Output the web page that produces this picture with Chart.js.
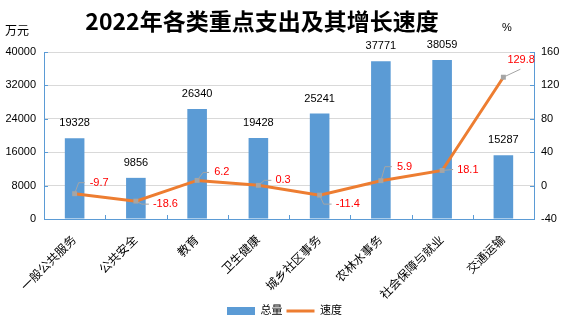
<!DOCTYPE html>
<html><head><meta charset="utf-8">
<script src="https://cdn.jsdelivr.net/npm/chart.js@4.4.1/dist/chart.umd.min.js"></script>
<style>html,body{margin:0;padding:0;background:#fff}#wrap{width:569px;height:333px}</style>
</head><body><div id="wrap"><canvas id="c" width="569" height="333"></canvas></div>
<script>
const categories = ['一般公共服务','公共安全','教育','卫生健康','城乡社区事务','农林水事务','社会保障与就业','交通运输'];
const totals = [19328, 9856, 26340, 19428, 25241, 37771, 38059, 15287];
const growth = [-9.7, -18.6, 6.2, 0.3, -11.4, 5.9, 18.1, 129.8];
const leftTicks = [0, 8000, 16000, 24000, 32000, 40000];
const rightTicks = [-40, 0, 40, 80, 120, 160];
const titleText = '2022年各类重点支出及其增长速度';
const leftUnit = '万元';
const rightUnit = '%';
const seriesNames = ['总量', '速度'];
// leader line / label placement for growth labels (offsets from point, px)
const growthLabelPlacement = [
  {lx:4, ly:-11, hx:10, tx:15, ty:-11},
  {lx:6, ly:3, hx:13, tx:17, ty:3},
  {lx:6, ly:-8, hx:12, tx:17, ty:-8},
  {lx:6, ly:-5, hx:13, tx:17, ty:-5},
  {lx:4, ly:9, hx:12, tx:16, ty:9},
  {lx:4, ly:-14, hx:11, tx:16, ty:-14},
  {lx:11, ly:-1, hx:11, tx:15, ty:-1},
  {lx:17, ly:-8, hx:17, tx:4, ty:-17}
];

const BLUE = '#5B9BD5', ORANGE = '#ED7D31', GRAY = '#A5A5A5', GRID = '#D9D9D9';
const FONT = "'Liberation Sans', 'Noto Sans CJK SC', sans-serif";

const extras = {
  id: 'extras',
  beforeDatasetsDraw(chart) {
    const ctx = chart.ctx, ca = chart.chartArea;
    const y = chart.scales.y, y1 = chart.scales.y1, x = chart.scales.x;
    ctx.save();
    ctx.strokeStyle = BLUE; ctx.lineWidth = 1;
    ctx.beginPath();
    leftTicks.forEach(v => { const p = Math.round(y.getPixelForValue(v)) + 0.5; ctx.moveTo(ca.left, p); ctx.lineTo(ca.left + 4, p); });
    rightTicks.forEach(v => { const p = Math.round(y1.getPixelForValue(v)) + 0.5; ctx.moveTo(ca.right - 4, p); ctx.lineTo(ca.right, p); });
    for (let i = 0; i <= categories.length; i++) {
      const p = Math.round(x.getPixelForValue(i - 0.5)) + 0.5;
      ctx.moveTo(p, ca.bottom); ctx.lineTo(p, ca.bottom - 4);
    }
    ctx.stroke();
    ctx.restore();
  },
  afterDatasetsDraw(chart) {
    const ctx = chart.ctx;
    ctx.save();
    const barMeta = chart.getDatasetMeta(0);
    ctx.font = '11px ' + FONT; ctx.fillStyle = '#000'; ctx.textAlign = 'center'; ctx.textBaseline = 'middle';
    barMeta.data.forEach((el, i) => { ctx.fillText(String(totals[i]), el.x, el.y - 15); });
    const lineMeta = chart.getDatasetMeta(1);
    lineMeta.data.forEach((el, i) => {
      const pl = growthLabelPlacement[i];
      ctx.strokeStyle = GRAY; ctx.lineWidth = 1;
      ctx.beginPath();
      ctx.moveTo(el.x, el.y); ctx.lineTo(el.x + pl.lx, el.y + pl.ly); ctx.lineTo(el.x + pl.hx, el.y + pl.ly);
      ctx.stroke();
      ctx.fillStyle = '#FF0000'; ctx.textAlign = 'left'; ctx.font = '11px ' + FONT;
      ctx.fillText(String(growth[i]), el.x + pl.tx, el.y + pl.ty);
    });
    ctx.restore();
  },
  afterDraw(chart) {
    const ctx = chart.ctx;
    ctx.save();
    ctx.fillStyle = '#000'; ctx.textBaseline = 'middle';
    ctx.font = "bold 23px 'Noto Sans CJK SC', sans-serif"; ctx.textAlign = 'center';
    ctx.fillText(titleText, 262, 21);
    ctx.font = "12px 'Noto Sans CJK SC', sans-serif"; ctx.textAlign = 'left';
    ctx.fillText(leftUnit, 5, 30);
    ctx.font = '11px ' + FONT;
    ctx.fillText(rightUnit, 502, 28);
    ctx.restore();
  }
};

new Chart(document.getElementById('c'), {
  data: {
    labels: categories,
    datasets: [
      { type: 'bar', label: seriesNames[0], data: totals, backgroundColor: BLUE, yAxisID: 'y', order: 1,
        barPercentage: 0.32, categoryPercentage: 1 },
      { type: 'line', label: seriesNames[1], data: growth, yAxisID: 'y1', order: 0,
        borderColor: ORANGE, backgroundColor: ORANGE, borderWidth: 3, tension: 0,
        pointStyle: 'rect', pointRadius: 3.5, pointBackgroundColor: GRAY, pointBorderColor: GRAY, pointBorderWidth: 0 }
    ]
  },
  options: {
    responsive: false, animation: false, devicePixelRatio: 1,
    layout: { padding: { top: 52, left: 0, right: 0, bottom: 6.5 } },
    plugins: {
      title: { display: false },
      tooltip: { enabled: false },
      legend: {
        position: 'bottom',
        labels: {
          usePointStyle: true, pointStyleWidth: 28, boxHeight: 8, padding: 4, color: '#000',
          font: { size: 11, family: FONT },
          generateLabels(chart) {
            return chart.data.datasets.map((ds, i) => ({
              text: ds.label, datasetIndex: i,
              fillStyle: ds.type === 'bar' ? BLUE : ORANGE,
              strokeStyle: ds.type === 'bar' ? BLUE : ORANGE,
              lineWidth: ds.type === 'bar' ? 0 : 3,
              pointStyle: ds.type === 'bar' ? 'rect' : 'line',
              fontColor: '#000', hidden: false
            }));
          }
        }
      }
    },
    scales: {
      x: {
        offset: true,
        grid: { display: false },
        border: { display: true, color: BLUE, width: 1 },
        ticks: { color: '#000', font: { size: 12, family: FONT }, maxRotation: 45, minRotation: 45, padding: 6, autoSkip: false },
        afterFit(s) { s.height = 82.5; }
      },
      y: {
        position: 'left', min: 0, max: 40000,
        grid: { color: GRID, drawTicks: false },
        border: { display: true, color: BLUE },
        ticks: { stepSize: 8000, color: '#000', padding: 8, font: { size: 11, family: FONT }, callback: v => String(v) },
        afterFit(s) { s.width = 44; }
      },
      y1: {
        position: 'right', min: -40, max: 160,
        grid: { drawOnChartArea: false, drawTicks: false },
        border: { display: true, color: BLUE },
        ticks: { stepSize: 40, color: '#000', padding: 7, font: { size: 11, family: FONT }, callback: v => String(v) },
        afterFit(s) { s.width = 35; }
      }
    }
  },
  plugins: [extras]
});
</script>
</body></html>
